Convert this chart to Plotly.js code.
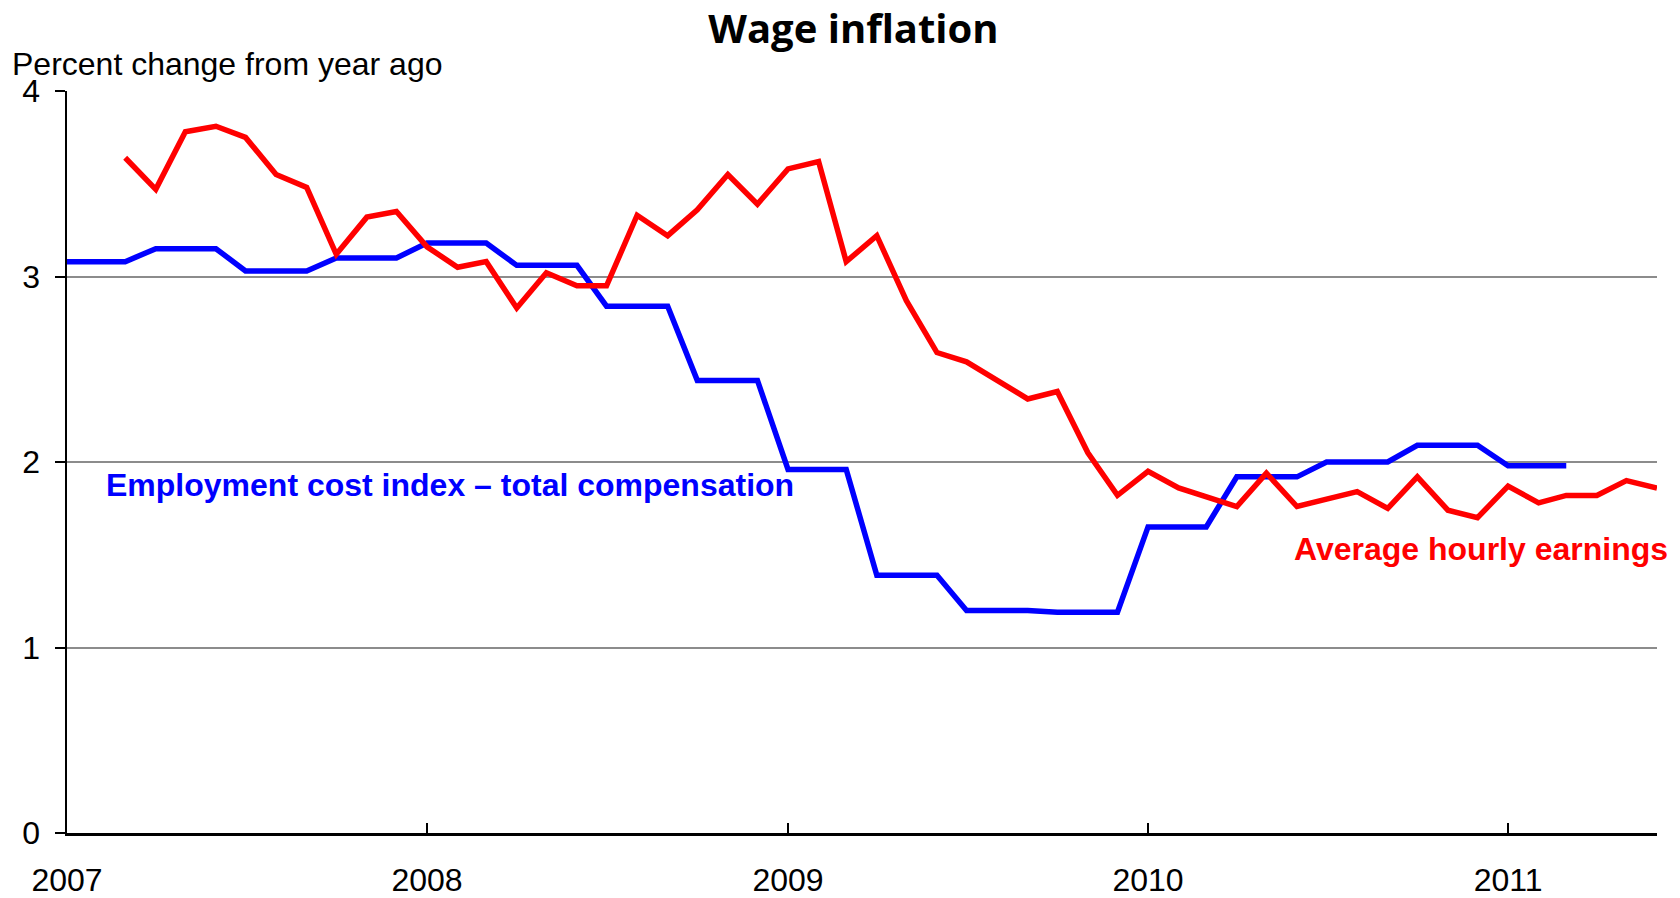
<!DOCTYPE html>
<html>
<head>
<meta charset="utf-8">
<script src="https://cdn.plot.ly/plotly-3.0.1.min.js"></script>
<style>
html,body{margin:0;padding:0;background:#fff;}
#chart{width:1680px;height:898px;}
</style>
</head>
<body>
<div id="chart"></div>
<script>
// Months (first of month) for the monthly series
const months = [
  "2007-01-01","2007-02-01","2007-03-01","2007-04-01","2007-05-01","2007-06-01",
  "2007-07-01","2007-08-01","2007-09-01","2007-10-01","2007-11-01","2007-12-01",
  "2008-01-01","2008-02-01","2008-03-01","2008-04-01","2008-05-01","2008-06-01",
  "2008-07-01","2008-08-01","2008-09-01","2008-10-01","2008-11-01","2008-12-01",
  "2009-01-01","2009-02-01","2009-03-01","2009-04-01","2009-05-01","2009-06-01",
  "2009-07-01","2009-08-01","2009-09-01","2009-10-01","2009-11-01","2009-12-01",
  "2010-01-01","2010-02-01","2010-03-01","2010-04-01","2010-05-01","2010-06-01",
  "2010-07-01","2010-08-01","2010-09-01","2010-10-01","2010-11-01","2010-12-01",
  "2011-01-01","2011-02-01","2011-03-01","2011-04-01","2011-05-01","2011-06-01"
];

// Employment cost index – total compensation (Jan 2007 – Mar 2011)
const eciValues = [
  3.08,3.08,3.08, 3.15,3.15,3.15, 3.03,3.03,3.03, 3.10,3.10,3.10,
  3.18,3.18,3.18, 3.06,3.06,3.06, 2.84,2.84,2.84, 2.44,2.44,2.44,
  1.96,1.96,1.96, 1.39,1.39,1.39, 1.20,1.20,1.20, 1.19,1.19,1.19,
  1.65,1.65,1.65, 1.92,1.92,1.92, 2.00,2.00,2.00, 2.09,2.09,2.09,
  1.98,1.98,1.98
];

// Average hourly earnings (Mar 2007 – Jun 2011)
const aheValues = [
  3.64,3.47,3.78,3.81,3.75,3.55,3.48,3.12,3.32,3.35,
  3.16,3.05,3.08,2.83,3.02,2.95,2.95,3.33,3.22,3.36,3.55,3.39,
  3.58,3.62,3.08,3.22,2.87,2.59,2.54,2.44,2.34,2.38,2.05,1.82,
  1.95,1.86,1.81,1.76,1.94,1.76,1.80,1.84,1.75,1.92,1.74,1.70,
  1.87,1.78,1.82,1.82,1.90,1.86
];

const yearTicks = ["2007-01-01","2008-01-01","2009-01-01","2010-01-01","2011-01-01"];
const yearLabels = ["2007","2008","2009","2010","2011"];
const yTicks = [0,1,2,3,4];

const eciX = months.slice(0, eciValues.length);
const aheX = months.slice(2, 2 + aheValues.length);

const FONT = "Liberation Sans, Arial, sans-serif";

const traces = [
  {x: eciX, y: eciValues, type: "scatter", mode: "lines",
   line: {color: "#0000ff", width: 5.5}, name: "Employment cost index – total compensation",
   hoverinfo: "x+y"},
  {x: aheX, y: aheValues, type: "scatter", mode: "lines",
   line: {color: "#ff0000", width: 5.5}, name: "Average hourly earnings",
   hoverinfo: "x+y"}
];

const layout = {
  width: 1680, height: 898,
  paper_bgcolor: "#ffffff", plot_bgcolor: "#ffffff",
  showlegend: false,
  margin: {l: 67, r: 23, t: 91, b: 65},
  font: {family: FONT, size: 32, color: "#000"},
  title: {text: "<b>Wage inflation</b>", font: {family: "Open Sans, Noto Sans, sans-serif", size: 40, color: "#000"},
          x: 0.508, xref: "container", xanchor: "center", y: 1 - 29/898, yref: "container", yanchor: "middle"},
  xaxis: {
    type: "date", range: ["2007-01-01", "2011-06-01"],
    tickvals: yearTicks, ticktext: yearLabels,
    ticks: "inside", ticklen: 10, tickwidth: 1.5, tickcolor: "#000",
    showline: true, linecolor: "#000", linewidth: 2.5,
    showgrid: false, zeroline: false,
    tickfont: {family: FONT, size: 32, color: "#000"},
    ticklabelstandoff: 17
  },
  yaxis: {
    range: [0, 4], tickvals: yTicks, ticktext: yTicks.map(String),
    ticks: "outside", ticklen: 10, tickwidth: 2, tickcolor: "#000",
    showline: true, linecolor: "#000", linewidth: 2.5,
    showgrid: true, gridcolor: "#8c8c8c", gridwidth: 2,
    zeroline: false,
    tickfont: {family: FONT, size: 32, color: "#000"},
    ticklabelstandoff: 8
  },
  annotations: [
    {text: "Percent change from year ago", xref: "paper", yref: "paper",
     x: (10 - 67) / 1590, y: (833.3 - 64) / 742.6, xanchor: "left", yanchor: "middle",
     showarrow: false, font: {family: FONT, size: 32, color: "#000"}},
    {text: "<b>Employment cost index – total compensation</b>", xref: "paper", yref: "paper",
     x: (104 - 67) / 1590, y: (833.3 - 485) / 742.6, xanchor: "left", yanchor: "middle",
     showarrow: false, font: {family: FONT, size: 32, color: "#0000ff"}},
    {text: "<b>Average hourly earnings</b>", xref: "paper", yref: "paper",
     x: (1292 - 67) / 1590, y: (833.3 - 548.6) / 742.6, xanchor: "left", yanchor: "middle",
     showarrow: false, font: {family: FONT, size: 32, color: "#ff0000"}}
  ]
};

Plotly.newPlot("chart", traces, layout, {displayModeBar: false, staticPlot: true});
</script>
</body>
</html>
